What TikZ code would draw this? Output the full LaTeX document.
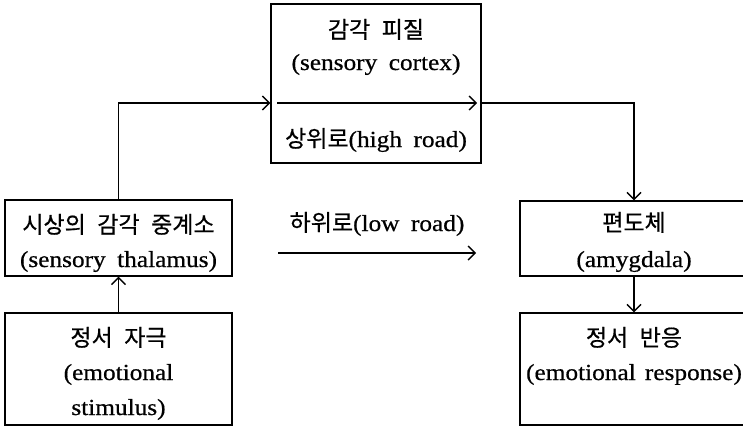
\documentclass[tikz,border=0pt]{standalone}
\usepackage{fontspec}
\setmainfont[FakeStretch=1.1,FakeBold=0.6]{Liberation Serif}
\newfontfamily\kr[FakeBold=0.6]{Noto Sans CJK KR}
\usetikzlibrary{arrows.meta}
\begin{document}
\begin{tikzpicture}[x=1pt,y=-1pt,
  font=\fontsize{23}{27}\selectfont,
  box/.style={draw, line width=1.4pt, inner sep=0pt},
  txt/.style={inner sep=0pt, anchor=base},
  conn/.style={line width=1.4pt},
  arr/.style={line width=1.4pt, -{Straight Barb[length=7pt,width=14pt,line width=1.4pt]}}]
\useasboundingbox (0,0) rectangle (743,426);
% boxes
\node[box, minimum width=210pt, minimum height=159pt] (cortex) at (376,83.5) {};
\node[box, minimum width=227pt, minimum height=76pt] (thal) at (118.5,238) {};
\node[box, minimum width=227pt, minimum height=112pt] (stim) at (118.5,369) {};
\node[box, minimum width=228pt, minimum height=75pt] (amyg) at (634,238.5) {};
\node[box, minimum width=228pt, minimum height=112pt] (resp) at (634,369) {};
% texts
\node[txt] (t1) at (376,38) {{\kr 감각\hspace{0.5em}피질}};
\node[txt] (t2) at (376,70) {(sensory\hspace{0.5em}cortex)};
\node[txt] (t3) at (376,147) {{\kr 상위로}(high\hspace{0.5em}road)};
\node[txt] (t4) at (118.5,233) {{\kr 시상의\hspace{0.5em}감각\hspace{0.5em}중계소}};
\node[txt] (t5) at (118.5,267) {(sensory\hspace{0.5em}thalamus)};
\node[txt] (t6) at (118.5,346) {{\kr 정서\hspace{0.5em}자극}};
\node[txt] (t7) at (118.5,380) {(emotional};
\node[txt] (t8) at (118.5,415) {stimulus)};
\node[txt] (t9) at (634,231) {{\kr 편도체}};
\node[txt] (t10) at (634,267) {(amygdala)};
\node[txt] (t11) at (634,346) {{\kr 정서\hspace{0.5em}반응}};
\node[txt] (t12) at (634,380) {(emotional\hspace{0.4em}response)};
\node[txt] (low) at (377,231) {{\kr 하위로}(low\hspace{0.5em}road)};
% connectors
\coordinate (hr) at (0,103);
\coordinate (hi1) at (277,103);
\coordinate (hi2) at (477,103);
\coordinate (lo1) at (278,253);
\coordinate (lo2) at (476,253);
\draw[arr] (thal.north) |- (cortex.west |- hr);
\draw[arr] (hi1) -- (hi2);
\draw[arr] (cortex.east |- hr) -| (amyg.north);
\draw[arr] (stim.north) -- (thal.south);
\draw[arr] (amyg.south) -- (resp.north);
\draw[arr] (lo1) -- (lo2);
\end{tikzpicture}
\end{document}
